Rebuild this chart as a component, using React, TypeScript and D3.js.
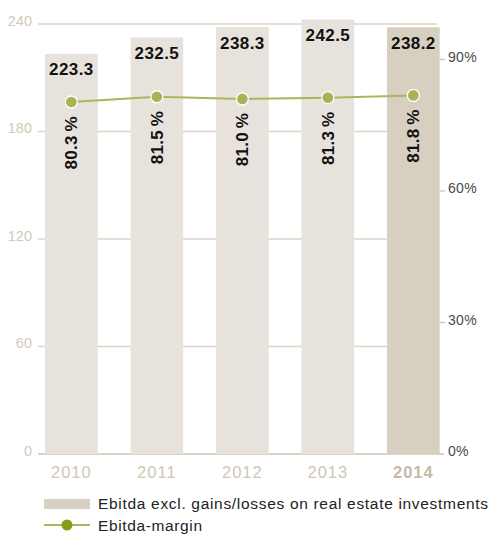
import React from "react";
import * as d3 from "d3";

const years = ["2010", "2011", "2012", "2013", "2014"];
const ebitda = [223.3, 232.5, 238.3, 242.5, 238.2];
const margin = [80.3, 81.5, 81.0, 81.3, 81.8];
const leftTicks = [0, 60, 120, 180, 240];
const rightTicks = [0, 30, 60, 90];
const legendLabels = ["Ebitda excl. gains/losses on real estate investments", "Ebitda-margin"];

const W = 492;
const H = 536;
const FONT = "'Liberation Sans', Arial, Helvetica, sans-serif";

export default function App() {
  const x = d3.scaleBand<string>().domain(years).range([45, 439.7]).paddingInner(0.384).paddingOuter(0);
  const yL = d3.scaleLinear().domain([0, 240]).range([454, 24]);
  const yR = d3.scaleLinear().domain([0, 90]).range([454, 59.5]);
  const bw = x.bandwidth();
  const cx = (d: string) => (x(d) as number) + bw / 2;

  const line = d3
    .line<number>()
    .x((_, i) => cx(years[i]))
    .y((d) => yR(d));

  return (
    <svg width={W} height={H} style={{ position: "absolute", left: 0, top: 0 }} fontFamily={FONT}>
      {/* gridlines */}
      {leftTicks.map((t) => (
        <line
          key={"g" + t}
          x1={38}
          x2={t === 0 ? 444 : 437}
          y1={yL(t)}
          y2={yL(t)}
          stroke={t === 0 ? "#cdc3b2" : "#ddd5c8"}
          strokeWidth={1.3}
        />
      ))}
      {leftTicks.map((t) => (
        <text key={"l" + t} x={32} y={yL(t) + 1.5} textAnchor="end" fontSize={14.5} fill="#d2c9ba">
          {t}
        </text>
      ))}
      {rightTicks.map((t) => (
        <g key={"r" + t}>
          {t !== 0 && <line x1={440} x2={445} y1={yR(t)} y2={yR(t)} stroke="#cdc3b2" strokeWidth={1.3} />}
          <text x={448} y={yR(t) + 2} fontSize={14} fill="#4a4a4a" letterSpacing={0.3}>
            {t}%
          </text>
        </g>
      ))}
      {/* bars */}
      {years.map((yr, i) => (
        <rect
          key={"b" + yr}
          x={x(yr)}
          y={yL(ebitda[i])}
          width={bw}
          height={yL(0) - yL(ebitda[i])}
          fill={i === years.length - 1 ? "#d7d0c1" : "#e7e3dc"}
        />
      ))}
      {/* value labels */}
      {years.map((yr, i) => (
        <text
          key={"v" + yr}
          x={cx(yr)}
          y={yL(ebitda[i]) + 21.5}
          textAnchor="middle"
          fontSize={17}
          fontWeight="bold"
          fill="#111"
          letterSpacing={0.4}
        >
          {ebitda[i].toFixed(1)}
        </text>
      ))}
      {/* line */}
      <path d={line(margin) || ""} fill="none" stroke="#a9b65e" strokeWidth={2} />
      {years.map((yr, i) => (
        <circle key={"c" + yr} cx={cx(yr)} cy={yR(margin[i])} r={6} fill="#a6b356" stroke="#fff" strokeWidth={1.3} />
      ))}
      {/* margin labels */}
      {years.map((yr, i) => {
        const px = cx(yr) + 6;
        const py = yR(margin[i]) + 14;
        return (
          <text
            key={"m" + yr}
            transform={`translate(${px},${py}) rotate(-90)`}
            textAnchor="end"
            fontSize={17}
            fontWeight="bold"
            fill="#111"
            letterSpacing={0.3}
          >
            {margin[i].toFixed(1)}
            {"\u2009%"}
          </text>
        );
      })}
      {/* x labels */}
      {years.map((yr, i) => (
        <text
          key={"x" + yr}
          x={cx(yr)}
          y={478}
          textAnchor="middle"
          fontSize={16.5}
          letterSpacing={1}
          fontWeight={i === years.length - 1 ? "bold" : "normal"}
          fill={i === years.length - 1 ? "#c4baa8" : "#cfc6b7"}
        >
          {yr}
        </text>
      ))}
      {/* legend */}
      <rect x={44} y={499} width={46} height={10} fill="#d8d1c3" />
      <text x={98} y={508.5} fontSize={15.5} fill="#222" textLength={390} lengthAdjust="spacing">
        {legendLabels[0]}
      </text>
      <line x1={44} x2={90} y1={525} y2={525} stroke="#a9b65e" strokeWidth={2} />
      <circle cx={67} cy={525} r={5.5} fill="#8a9c14" />
      <text x={98} y={530.5} fontSize={15.5} fill="#222" textLength={104} lengthAdjust="spacing">
        {legendLabels[1]}
      </text>
    </svg>
  );
}
